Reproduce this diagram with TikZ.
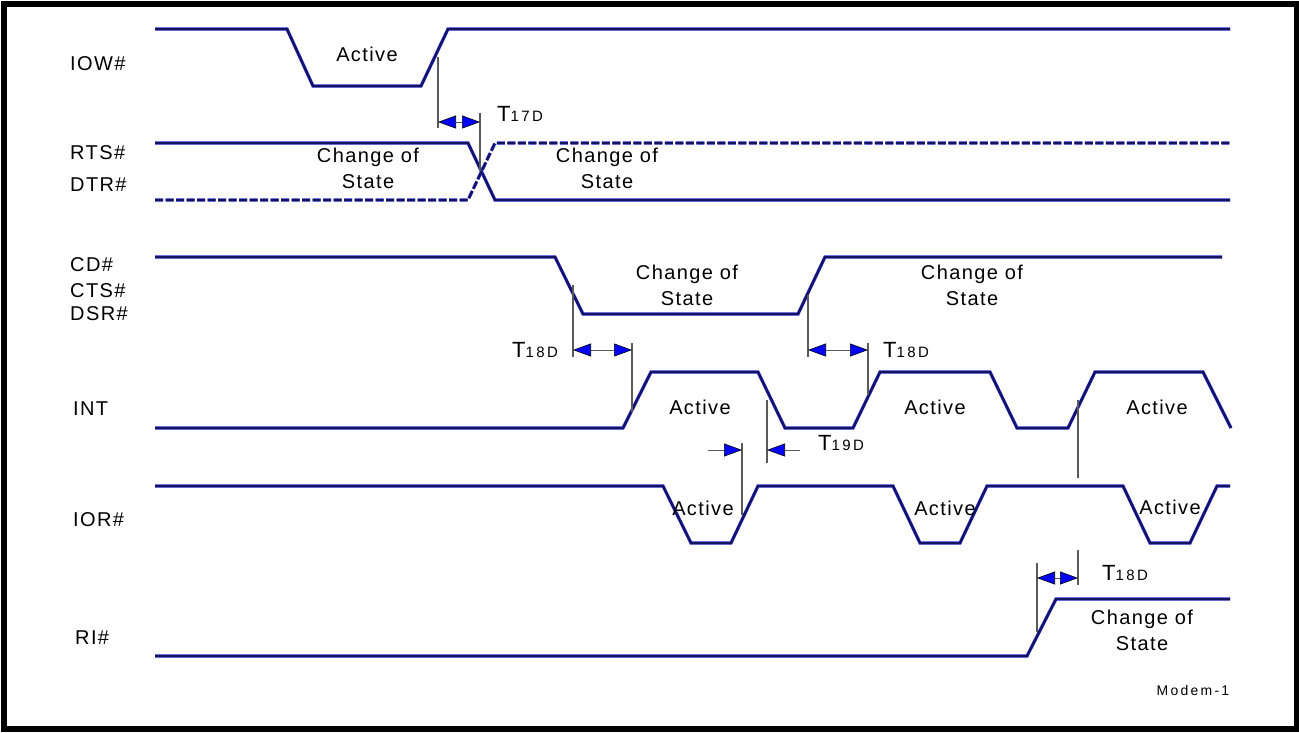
\documentclass[tikz,border=0pt]{standalone}
\usepackage{fontspec}
\setmainfont{Liberation Sans}
\newfontfamily\sig[LetterSpace=7]{Liberation Sans}
\newfontfamily\sigwide[LetterSpace=16]{Liberation Sans}
\usetikzlibrary{arrows.meta}
\definecolor{wave}{RGB}{20,20,90}
\definecolor{wavefringe}{RGB}{40,40,220}
\definecolor{refgray}{RGB}{90,90,90}
\definecolor{tipblue}{RGB}{0,0,255}
\tikzset{
  wavestyle/.style={draw=wave,line width=2pt,preaction={draw=wavefringe,line width=3.2pt}},
  dashwave/.style={draw=wave,line width=2pt,dash pattern=on 8pt off 2.5pt,preaction={draw=wavefringe,line width=3.2pt,dash pattern=on 8pt off 2.5pt}},
  refline/.style={draw=refgray,line width=1.2pt},
  dimline/.style={draw=refgray,line width=1pt},
  btip/.tip={Triangle[length=18pt,width=13pt,fill=tipblue,color=black,line width=0.6pt]},
  siglabel/.style={anchor=west,font=\sig\fontsize{20pt}{26pt}\selectfont,inner sep=0pt},
  txt/.style={align=center,font=\sig\fontsize{20pt}{26pt}\selectfont,inner sep=0pt},
  tlabel/.style={anchor=west,inner sep=0pt},
}
\newcommand{\tlab}[1]{{\fontsize{22pt}{24pt}\selectfont T}{\sigwide\fontsize{15pt}{17pt}\selectfont #1}}
\begin{document}
\begin{tikzpicture}[x=1pt,y=-1pt]
\useasboundingbox (0,0) rectangle (1299,732);
\draw[line width=6pt,black] (4,3.5) rectangle (1296.5,729);

% signal names
\node[siglabel] (liow) at (70,64) {IOW\#};
\node[siglabel] (lrts) at (70,153) {RTS\#};
\node[siglabel] (ldtr) at (70,185) {DTR\#};
\node[siglabel] (lcd) at (70,265) {CD\#};
\node[siglabel] (lcts) at (70,291) {CTS\#};
\node[siglabel] (ldsr) at (70,314) {DSR\#};
\node[siglabel] (lint) at (73,409) {INT};
\node[siglabel] (lior) at (73,520) {IOR\#};
\node[siglabel] (lri) at (75,638) {RI\#};

% waveforms
\draw[wavestyle] (155,29) -- (287,29) -- (313,86) -- (421,86) -- (448,29) -- (1230,29);
\draw[wavestyle] (155,143) -- (468,143) -- (495,200) -- (1230,200);
\draw[dashwave] (155,200) -- (468,200) -- (495,143) -- (1230,143);
\draw[wavestyle] (155,257) -- (555,257) -- (583,314) -- (798,314) -- (825,257) -- (1222,257);
\draw[wavestyle] (155,428) -- (623,428) -- (651,372) -- (758,372) -- (785,428) -- (853,428) -- (880,372) -- (990,372) -- (1017,428) -- (1068,428) -- (1095,372) -- (1203,372) -- (1231,428);
\draw[wavestyle] (155,486) -- (663,486) -- (691,543) -- (731,543) -- (758,486) -- (893,486) -- (920,543) -- (960,543) -- (987,486) -- (1123,486) -- (1150,543) -- (1190,543) -- (1217,486) -- (1230,486);
\draw[wavestyle] (155,656) -- (1027,656) -- (1056,599) -- (1230,599);

% waveform texts
\node[txt] (a1) at (367,54) {Active};
\node[txt] (c1) at (368,168) {Change of\\State};
\node[txt] (c2) at (607,168) {Change of\\State};
\node[txt] (c3) at (687,285) {Change of\\State};
\node[txt] (c4) at (972,285) {Change of\\State};
\node[txt] (a2) at (700,407) {Active};
\node[txt] (a3) at (935,407) {Active};
\node[txt] (a4) at (1157,407) {Active};
\node[txt] (a5) at (703,508) {Active};
\node[txt] (a6) at (945,508) {Active};
\node[txt] (a7) at (1170,507) {Active};
\node[txt] (c5) at (1142,630) {Change of\\State};
\node[anchor=center,font=\sigwide\fontsize{14pt}{16pt}\selectfont,inner sep=0pt] (mdm) at (1193,690) {Modem-1};

% T17D
\coordinate (t17a) at (438,57); \coordinate (t17b) at (438,128);
\coordinate (t17c) at (480,113); \coordinate (t17d) at (480,171);
\draw[refline] (t17a) -- (t17b);
\draw[refline] (t17c) -- (t17d);
\coordinate (t17l) at (438,122); \coordinate (t17r) at (480,122);
\draw[dimline,{btip}-{btip}] (t17l) -- (t17r);
\node[tlabel] (lt17) at (497,114) {\tlab{17D}};

% T18D first
\coordinate (t18a) at (573,285); \coordinate (t18b) at (573,357);
\coordinate (t18c) at (632,343); \coordinate (t18d) at (632,412);
\draw[refline] (t18a) -- (t18b);
\draw[refline] (t18c) -- (t18d);
\coordinate (t18l) at (573,350); \coordinate (t18r) at (632,350);
\draw[dimline,{btip}-{btip}] (t18l) -- (t18r);
\node[tlabel] (lt18a) at (512,350) {\tlab{18D}};

% T18D second
\coordinate (u18a) at (808,295); \coordinate (u18b) at (808,357);
\coordinate (u18c) at (868,343); \coordinate (u18d) at (868,395);
\draw[refline] (u18a) -- (u18b);
\draw[refline] (u18c) -- (u18d);
\coordinate (u18l) at (808,350); \coordinate (u18r) at (868,350);
\draw[dimline,{btip}-{btip}] (u18l) -- (u18r);
\node[tlabel] (lt18b) at (883,350) {\tlab{18D}};

% T19D
\coordinate (t19a) at (742,443); \coordinate (t19b) at (742,515);
\coordinate (t19c) at (767,400); \coordinate (t19d) at (767,463);
\draw[refline] (t19a) -- (t19b);
\draw[refline] (t19c) -- (t19d);
\coordinate (t19s1) at (708,450); \coordinate (t19e1) at (742,450);
\coordinate (t19s2) at (800,450); \coordinate (t19e2) at (767,450);
\draw[dimline,-{btip}] (t19s1) -- (t19e1);
\draw[dimline,-{btip}] (t19s2) -- (t19e2);
\node[tlabel] (lt19) at (818,443) {\tlab{19D}};

% T18D third
\coordinate (v18a) at (1078,400); \coordinate (v18b) at (1078,478);
\draw[refline] (v18a) -- (v18b);
\coordinate (v18c) at (1078,550); \coordinate (v18d) at (1078,585);
\draw[refline] (v18c) -- (v18d);
\coordinate (v18e) at (1037,563); \coordinate (v18f) at (1037,632);
\draw[refline] (v18e) -- (v18f);
\coordinate (v18l) at (1037,578); \coordinate (v18r) at (1078,578);
\draw[dimline,{btip}-{btip}] (v18l) -- (v18r);
\node[tlabel] (lt18c) at (1102,573) {\tlab{18D}};
\end{tikzpicture}
\end{document}
